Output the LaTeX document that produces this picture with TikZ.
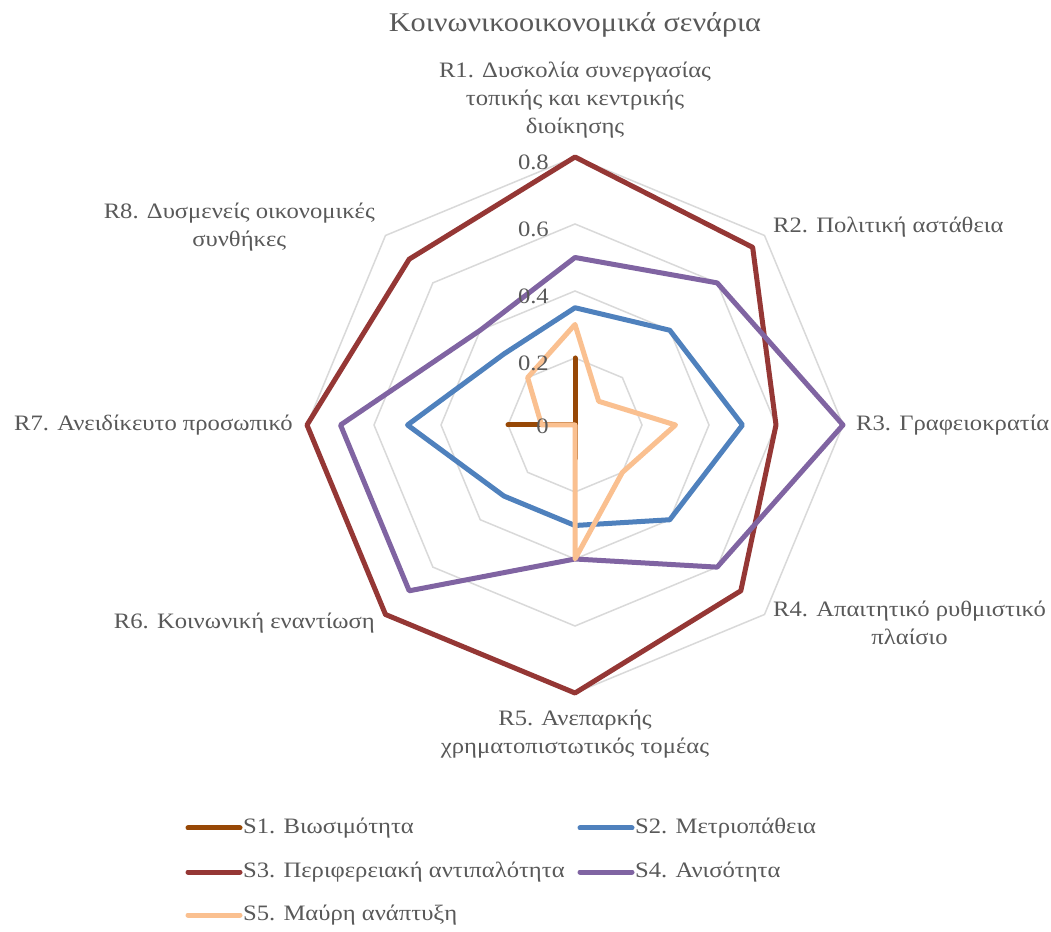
\documentclass[tikz,border=0pt]{standalone}
\usepackage{fontspec}
\setmainfont{Liberation Serif}[FakeStretch=1.12]
\definecolor{txt}{HTML}{595959}
\definecolor{gridc}{HTML}{D9D9D9}
\definecolor{cS1}{HTML}{974806}
\definecolor{cS2}{HTML}{4F81BD}
\definecolor{cS3}{HTML}{953735}
\definecolor{cS4}{HTML}{8064A2}
\definecolor{cS5}{HTML}{FAC090}
\tikzset{
  lbl/.style={text=txt, font=\fontsize{22}{28}\selectfont, inner sep=0pt, align=center},
  ticklbl/.style={text=txt, font=\fontsize{22}{26}\selectfont, inner sep=0pt, anchor=east},
  ttl/.style={text=txt, font=\fontsize{27}{32}\selectfont, inner sep=0pt},
  gridline/.style={draw=gridc, line width=1.5pt, line join=miter},
  series/.style={line width=5pt, line join=round, line cap=round},
  sA/.style={series, draw=cS1},
  sB/.style={series, draw=cS2},
  sC/.style={series, draw=cS3},
  sD/.style={series, draw=cS4},
  sE/.style={series, draw=cS5},
}
\begin{document}
\begin{tikzpicture}[x=1pt, y=1pt]
\useasboundingbox[fill=white] (0,0) rectangle (1051,931);

% title
\node[ttl] (title) at (575,906) {Κοινωνικοοικονομικά σενάρια};

% radar plot: centre, grid octagons and the five scenario polygons
\begin{scope}[shift={(575,506)}, x=335pt, y=335pt]
  \foreach \r in {0.2,0.4,0.6,0.8}
    \draw[gridline] (90:\r) -- (45:\r) -- (0:\r) -- (-45:\r) -- (-90:\r)
      -- (-135:\r) -- (180:\r) -- (135:\r) -- cycle;
  % S1
  \draw[sA] (90:0.2) -- (45:0) -- (0:0) -- (-45:0) -- (-90:0.1) -- (-135:0)
    -- (180:0.2) -- (135:0) -- cycle;
  % S2
  \draw[sB] (90:0.35) -- (45:0.4) -- (0:0.5) -- (-45:0.4) -- (-90:0.3)
    -- (-135:0.3) -- (180:0.5) -- (135:0.3) -- cycle;
  % S3
  \draw[sC] (90:0.8) -- (45:0.75) -- (0:0.6) -- (-45:0.7) -- (-90:0.8)
    -- (-135:0.8) -- (180:0.8) -- (135:0.7) -- cycle;
  % S4
  \draw[sD] (90:0.5) -- (45:0.6) -- (0:0.8) -- (-45:0.6) -- (-90:0.4)
    -- (-135:0.7) -- (180:0.7) -- (135:0.4) -- cycle;
  % S5
  \draw[sE] (90:0.3) -- (45:0.1) -- (0:0.3) -- (-45:0.2) -- (-90:0.4)
    -- (-135:0) -- (180:0.1) -- (135:0.2) -- cycle;
\end{scope}

% scale values along the first axis
\node[ticklbl] (t8) at (549,769) {0.8};
\node[ticklbl] (t6) at (549,702) {0.6};
\node[ticklbl] (t4) at (549,635) {0.4};
\node[ticklbl] (t2) at (549,568) {0.2};
\node[ticklbl] (t0) at (549,505) {0};

% axis labels
\node[lbl] (r1) at (575,831) {R1. Δυσκολία συνεργασίας\\τοπικής και κεντρικής\\διοίκησης};
\node[lbl, anchor=west] (r2) at (773,704) {R2. Πολιτική αστάθεια};
\node[lbl, anchor=west] (r3) at (856,506) {R3. Γραφειοκρατία};
\node[lbl, anchor=west] (r4) at (773,308.5) {R4. Απαιτητικό ρυθμιστικό\\πλαίσιο};
\node[lbl] (r5) at (575,197) {R5. Ανεπαρκής\\χρηματοπιστωτικός τομέας};
\node[lbl, anchor=east] (r6) at (375,308) {R6. Κοινωνική εναντίωση};
\node[lbl, anchor=east] (r7) at (293,506) {R7. Ανειδίκευτο προσωπικό};
\node[lbl, anchor=east] (r8) at (375,704) {R8. Δυσμενείς οικονομικές\\συνθήκες};

% legend
\coordinate (k1a) at (188,103); \coordinate (k1b) at (240,103);
\coordinate (k2a) at (580,103); \coordinate (k2b) at (632,103);
\coordinate (k3a) at (188,59);  \coordinate (k3b) at (240,59);
\coordinate (k4a) at (580,59);  \coordinate (k4b) at (632,59);
\coordinate (k5a) at (188,16);  \coordinate (k5b) at (240,16);
\draw[sA] (k1a) -- (k1b);
\draw[sB] (k2a) -- (k2b);
\draw[sC] (k3a) -- (k3b);
\draw[sD] (k4a) -- (k4b);
\draw[sE] (k5a) -- (k5b);
\node[lbl, anchor=west] (l1) at (243,103) {S1. Βιωσιμότητα};
\node[lbl, anchor=west] (l2) at (635,103) {S2. Μετριοπάθεια};
\node[lbl, anchor=west] (l3) at (243,59) {S3. Περιφερειακή αντιπαλότητα};
\node[lbl, anchor=west] (l4) at (635,59) {S4. Ανισότητα};
\node[lbl, anchor=west] (l5) at (243,16) {S5. Μαύρη ανάπτυξη};
\end{tikzpicture}
\end{document}
